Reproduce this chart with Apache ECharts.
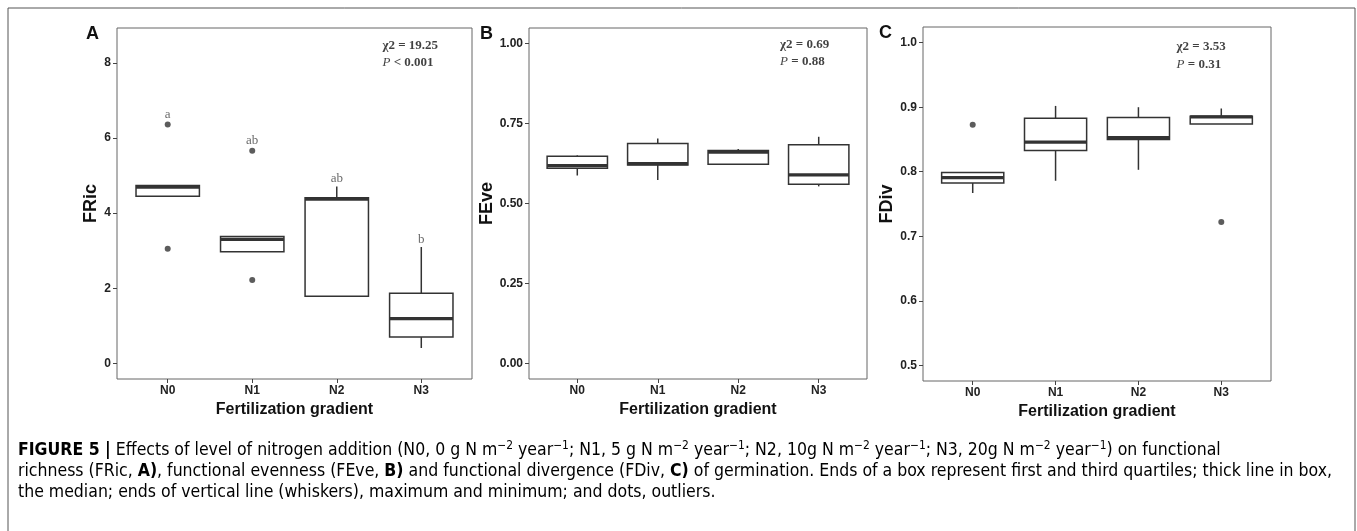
<!DOCTYPE html>
<html>
<head>
<meta charset="utf-8">
<script src="https://cdn.jsdelivr.net/npm/echarts@6/dist/echarts.min.js"></script>
<style>html,body{margin:0;padding:0;background:#fff}#c{width:1357px;height:531px}</style>
</head>
<body>
<div id="c"></div>
<script>
// ---------- data ----------
const categories = ['N0', 'N1', 'N2', 'N3'];
// [lower whisker, Q1, median, Q3, upper whisker]
const fricBoxes = [[4.45, 4.45, 4.69, 4.74, 4.74], [2.97, 2.97, 3.30, 3.38, 3.38], [1.77, 1.79, 4.37, 4.41, 4.71], [0.41, 0.70, 1.19, 1.87, 3.10]];
const fricOutliers = [[1, 6.36], [1, 3.05], [2, 5.66], [2, 2.22]];
const fricLetters = ['a', 'ab', 'ab', 'b'];
const fricLetterY = [6.62, 5.93, 4.91, 3.29];
const feveBoxes = [[0.588, 0.611, 0.619, 0.648, 0.651], [0.574, 0.621, 0.625, 0.688, 0.704], [0.622, 0.623, 0.661, 0.666, 0.671], [0.554, 0.561, 0.590, 0.684, 0.709]];
const feveOutliers = [];
const fdivBoxes = [[0.767, 0.7825, 0.791, 0.799, 0.799], [0.786, 0.833, 0.846, 0.883, 0.902], [0.803, 0.850, 0.853, 0.884, 0.900], [0.874, 0.874, 0.885, 0.886, 0.898]];
const fdivOutliers = [[1, 0.873], [4, 0.722]];
const fricTicks = [0, 2, 4, 6, 8];
const feveTicks = [0, 0.25, 0.5, 0.75, 1.0];
const fdivTicks = [0.5, 0.6, 0.7, 0.8, 0.9, 1.0];
const stats = [
  { chi: 'χ2 = 19.25', p: '< 0.001', x: 3.54, y1: 8.47, y2: 8.0 },
  { chi: 'χ2 = 0.69', p: '= 0.88', x: 3.52, y1: 0.997, y2: 0.944 },
  { chi: 'χ2 = 3.53', p: '= 0.31', x: 3.46, y1: 0.994, y2: 0.966 }
];

// ---------- helpers ----------
const SANS = 'Liberation Sans, Arial, sans-serif';
const SERIF = 'Liberation Serif, Times New Roman, serif';
const INK = '#333';

function boxData(boxes) { return boxes.map((b, i) => [i + 1].concat(b)); }

function renderBox(params, api) {
  const x = api.value(0);
  const lo = api.coord([x, api.value(1)]);
  const q1 = api.coord([x, api.value(2)]);
  const md = api.coord([x, api.value(3)]);
  const q3 = api.coord([x, api.value(4)]);
  const hi = api.coord([x, api.value(5)]);
  const w = api.size([0.75, 0])[0];
  const cx = q1[0];
  const ls = { stroke: INK, lineWidth: 1.5, fill: null };
  return {
    type: 'group',
    children: [
      { type: 'line', shape: { x1: cx, y1: lo[1], x2: cx, y2: q1[1] }, style: ls },
      { type: 'line', shape: { x1: cx, y1: q3[1], x2: cx, y2: hi[1] }, style: ls },
      { type: 'rect', shape: { x: cx - w / 2, y: q3[1], width: w, height: q1[1] - q3[1] }, style: { fill: '#fff', stroke: INK, lineWidth: 1.5 } },
      { type: 'line', shape: { x1: cx - w / 2, y1: md[1], x2: cx + w / 2, y2: md[1] }, style: { stroke: INK, lineWidth: 3.2 } }
    ]
  };
}

function xAxisCfg(gi) {
  return {
    type: 'value', gridIndex: gi, min: 0.4, max: 4.6,
    axisLine: { show: false, onZero: false }, splitLine: { show: false },
    axisTick: { show: true, customValues: [1, 2, 3, 4], length: 4, lineStyle: { color: '#444', width: 1 } },
    axisLabel: { customValues: [1, 2, 3, 4], formatter: v => categories[Math.round(v) - 1], fontFamily: SANS, fontWeight: 'bold', fontSize: 12, color: '#222', margin: 6 },
    name: 'Fertilization gradient', nameLocation: 'middle', nameGap: 22,
    nameTextStyle: { fontFamily: SANS, fontWeight: 'bold', fontSize: 16, color: '#111' }
  };
}
function yAxisCfg(gi, min, max, ticks, name, gap, fmt) {
  return {
    type: 'value', gridIndex: gi, min: min, max: max,
    axisLine: { show: false, onZero: false }, splitLine: { show: false },
    axisTick: { show: true, customValues: ticks, length: 4, lineStyle: { color: '#444', width: 1 } },
    axisLabel: { customValues: ticks, formatter: fmt, fontFamily: SANS, fontWeight: 'bold', fontSize: 12, color: '#222', margin: 6 },
    name: name, nameLocation: 'middle', nameGap: gap,
    nameTextStyle: { fontFamily: SANS, fontWeight: 'bold', fontSize: 18, color: '#111' }
  };
}
function boxSeries(gi, boxes) {
  return { type: 'custom', xAxisIndex: gi, yAxisIndex: gi, renderItem: renderBox, data: boxData(boxes), encode: { x: 0, y: [1, 2, 3, 4, 5] }, z: 2, silent: true };
}
function outSeries(gi, pts) {
  return { type: 'scatter', xAxisIndex: gi, yAxisIndex: gi, data: pts, symbol: 'circle', symbolSize: 6, itemStyle: { color: INK }, z: 3, silent: true };
}
function statSeries(gi, s) {
  const lbl = { show: true, position: 'inside', align: 'left', verticalAlign: 'middle' };
  return {
    type: 'scatter', xAxisIndex: gi, yAxisIndex: gi, symbolSize: 0, silent: true, z: 4,
    data: [
      { value: [s.x, s.y1], label: Object.assign({}, lbl, { formatter: s.chi, fontFamily: SERIF, fontWeight: 'bold', fontSize: 13, color: '#111' }) },
      { value: [s.x, s.y2], label: Object.assign({}, lbl, { formatter: '{i|P} {b|' + s.p + '}', rich: { i: { fontFamily: SERIF, fontStyle: 'italic', fontSize: 13, color: '#111' }, b: { fontFamily: SERIF, fontWeight: 'bold', fontSize: 13, color: '#111' } } }) }
    ]
  };
}

const grids = [
  { left: 117, top: 28, width: 355, height: 351 },
  { left: 529, top: 28, width: 338, height: 351 },
  { left: 923, top: 27, width: 348, height: 354 }
].map(g => Object.assign(g, { show: true, borderColor: '#666', borderWidth: 1, backgroundColor: 'transparent', containLabel: false }));

// ---------- caption font: pick a condensed face and fit the measured line width ----------
const mctx = document.createElement('canvas').getContext('2d');
function hasFont(name) {
  mctx.font = '40px monospace'; const a = mctx.measureText('abcdefghijklmnopWMil').width;
  mctx.font = '40px "' + name + '", monospace'; const b = mctx.measureText('abcdefghijklmnopWMil').width;
  return Math.abs(a - b) > 0.5;
}
let capFace = 'Liberation Sans';
if (hasFont('Liberation Sans Narrow')) capFace = 'Liberation Sans Narrow';
else if (hasFont('DejaVu Sans Condensed')) capFace = 'DejaVu Sans Condensed';
const line2Parts = [['richness (FRic, ', 0], ['A)', 1], [', functional evenness (FEve, ', 0], ['B)', 1], [' and functional divergence (FDiv, ', 0], ['C)', 1], [' of germination. Ends of a box represent first and third quartiles; thick line in box,', 0]];
let w10 = 0;
line2Parts.forEach(([t, b]) => { mctx.font = (b ? 'bold ' : '') + '10px "' + capFace + '"'; w10 += mctx.measureText(t).width; });
const capSize = Math.min(19, 10 * 1315 / w10);

const capBase = { fontFamily: capFace, fontSize: capSize, color: '#444', lineHeight: 21 };
const capRich = {
  n: Object.assign({}, capBase),
  b: Object.assign({}, capBase, { fontWeight: 'bold', color: '#2a2a2a' }),
  s: Object.assign({}, capBase, { fontSize: capSize * 0.68, lineHeight: 12, verticalAlign: 'top' })
};
const capLine1 = '{b|FIGURE 5 |}{n| Effects of level of nitrogen addition (N0, 0 g N m}{s|−2}{n| year}{s|−1}{n|; N1, 5 g N m}{s|−2}{n| year}{s|−1}{n|; N2, 10g N m}{s|−2}{n| year}{s|−1}{n|; N3, 20g N m}{s|−2}{n| year}{s|−1}{n|) on functional}';
const capLine2 = line2Parts.map(([t, b]) => '{' + (b ? 'b' : 'n') + '|' + t + '}').join('');
const capLine3 = '{n|the median; ends of vertical line (whiskers), maximum and minimum; and dots, outliers.}';

const option = {
  animation: false,
  backgroundColor: '#fff',
  grid: grids,
  xAxis: [xAxisCfg(0), xAxisCfg(1), xAxisCfg(2)],
  yAxis: [
    yAxisCfg(0, -0.415, 8.93, fricTicks, 'FRic', 12, v => String(v)),
    yAxisCfg(1, -0.048, 1.049, feveTicks, 'FEve', 31, v => v.toFixed(2)),
    yAxisCfg(2, 0.4757, 1.0243, fdivTicks, 'FDiv', 24, v => v.toFixed(1))
  ],
  series: [
    boxSeries(0, fricBoxes), outSeries(0, fricOutliers),
    {
      type: 'scatter', xAxisIndex: 0, yAxisIndex: 0, symbolSize: 0, silent: true, z: 4,
      data: fricLetters.map((t, i) => [i + 1, fricLetterY[i], t]),
      label: { show: true, position: 'inside', formatter: p => p.value[2], fontFamily: SERIF, fontSize: 13, color: '#444' }
    },
    statSeries(0, stats[0]),
    boxSeries(1, feveBoxes), outSeries(1, feveOutliers), statSeries(1, stats[1]),
    boxSeries(2, fdivBoxes), outSeries(2, fdivOutliers), statSeries(2, stats[2])
  ],
  graphic: [
    { type: 'rect', shape: { x: 8, y: 8, width: 1347, height: 560 }, style: { fill: null, stroke: '#555', lineWidth: 1 }, silent: true },
    { type: 'text', x: 86, y: 34, style: { text: 'A', fontFamily: SANS, fontWeight: 'bold', fontSize: 18, fill: '#111', verticalAlign: 'middle' } },
    { type: 'text', x: 480, y: 34, style: { text: 'B', fontFamily: SANS, fontWeight: 'bold', fontSize: 18, fill: '#111', verticalAlign: 'middle' } },
    { type: 'text', x: 879, y: 33, style: { text: 'C', fontFamily: SANS, fontWeight: 'bold', fontSize: 18, fill: '#111', verticalAlign: 'middle' } },
    { type: 'text', x: 18, y: 440, style: { text: capLine1, rich: capRich } },
    { type: 'text', x: 18, y: 461, style: { text: capLine2, rich: capRich } },
    { type: 'text', x: 18, y: 482, style: { text: capLine3, rich: capRich } }
  ]
};
const chart = echarts.init(document.getElementById('c'), null, { renderer: 'canvas' });
chart.setOption(option);
</script>
</body>
</html>
